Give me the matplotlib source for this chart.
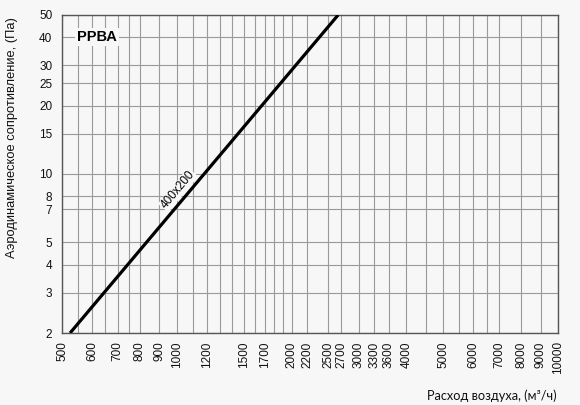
import matplotlib
matplotlib.use("Agg")
import matplotlib.pyplot as plt
from matplotlib.ticker import FixedLocator, FixedFormatter, NullFormatter

# ---- data ----
x_ticks = [500, 600, 700, 800, 900, 1000, 1200, 1500, 1700, 2000, 2200, 2500,
           2700, 3000, 3300, 3600, 4000, 5000, 6000, 7000, 8000, 9000, 10000]
x_minor = [550, 650, 750, 1100, 1300, 1400, 1600, 1800, 1900, 4500, 5500, 6500]
y_ticks = [2, 3, 4, 5, 7, 8, 10, 15, 20, 25, 30, 40, 50]
flow = [525, 2650]          # m3/h
pressure = [2, 50]          # Pa
series_label = "400x200"
title_label = "РРВА"

BG = "#f7f7f7"
plt.rcParams['font.family'] = ['Liberation Sans', 'DejaVu Sans']

fig = plt.figure(figsize=(5.8, 4.05), dpi=100, facecolor=BG)
ax = fig.add_axes([62/580, 1-333/405, 496/580, 318/405], facecolor=BG)
ax.set_xscale('log')
ax.set_yscale('log')
ax.set_xlim(500, 10000)
ax.set_ylim(2, 50)

ax.xaxis.set_major_locator(FixedLocator(x_ticks))
ax.xaxis.set_major_formatter(FixedFormatter([str(v) for v in x_ticks]))
ax.xaxis.set_minor_locator(FixedLocator(x_minor))
ax.xaxis.set_minor_formatter(NullFormatter())
ax.yaxis.set_major_locator(FixedLocator(y_ticks))
ax.yaxis.set_major_formatter(FixedFormatter([str(v) for v in y_ticks]))
ax.yaxis.set_minor_locator(FixedLocator([]))

ax.tick_params(axis='x', which='both', length=0, pad=6, labelrotation=90,
               labelsize=8.5, colors='#111111')
ax.tick_params(axis='y', which='both', length=0, pad=7, labelsize=8.5,
               colors='#111111')
ax.grid(True, which='both', color='#9a9a9a', linewidth=0.8)
ax.set_axisbelow(True)
for s in ax.spines.values():
    s.set_color('#555555')
    s.set_linewidth(1.0)

ax.plot(flow, pressure, color='black', linewidth=2.3, solid_capstyle='butt',
        zorder=3)

ax.text(1008, 8.5, series_label, rotation=50, rotation_mode='anchor',
        ha='center', va='center', fontsize=8.5, zorder=4,
        bbox=dict(facecolor=BG, edgecolor='none', pad=0.5))
ax.text(547, 40, title_label, ha='left', va='center', fontsize=10.5,
        fontweight='bold', zorder=4,
        bbox=dict(facecolor=BG, edgecolor='none', pad=1.5))

fig.text(12/580, 1-138/405, "Аэродинамическое сопротивление, (Па)",
         rotation=90, ha='center', va='center', fontsize=9.3, color='#111111')
fig.text(557/580, 1-396/405, "Расход воздуха, (м³/ч)", ha='right',
         va='center', fontsize=9.2, color='#111111',
         family=['Lato', 'DejaVu Sans'])

fig.savefig("out.png", dpi=100, facecolor=BG)
